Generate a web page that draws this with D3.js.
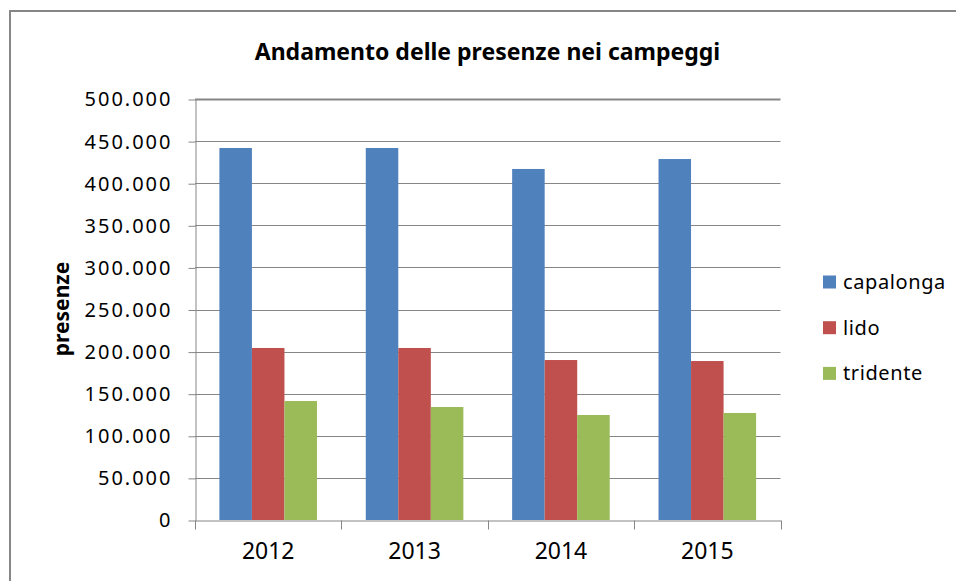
<!DOCTYPE html>
<html lang="it">

<head>
    <meta charset="UTF-8">
    <title>Andamento delle presenze nei campeggi</title>
    <style>
        html,
        body {
            margin: 0;
            padding: 0;
            background: #fff;
        }

        svg {
            display: block;
            font-family: "Noto Sans", sans-serif;
        }
    </style>
</head>

<body>
    <div id="wrapper"></div>

    <script src="https://cdn.jsdelivr.net/npm/d3@7"></script>
    <script>
        // dati
        const years = ['2012', '2013', '2014', '2015'];
        const seriesNames = ['capalonga', 'lido', 'tridente'];
        const capalonga = [441800, 441800, 416900, 428700];
        const lido = [204300, 204300, 190000, 188800];
        const tridente = [141300, 134200, 124700, 127100];
        const yTicks = [0, 50000, 100000, 150000, 200000, 250000, 300000, 350000, 400000, 450000, 500000];
        const colors = ['#4F81BD', '#C0504D', '#9BBB59'];

        const values = [capalonga, lido, tridente];
        const dataset = years.map((y, i) => ({
            year: y,
            vals: seriesNames.map((s, j) => ({ name: s, value: values[j][i] }))
        }));

        const width = 956,
            height = 581;
        const plot = { left: 195, right: 780.5, top: 99, bottom: 520 };

        const svg = d3.select('#wrapper').append('svg')
            .attr('width', width)
            .attr('height', height);

        // cornice esterna
        svg.append('rect')
            .attr('x', 10)
            .attr('y', 11)
            .attr('width', width + 20)
            .attr('height', height + 20)
            .attr('fill', 'none')
            .attr('stroke', '#868686')
            .attr('stroke-width', 2);

        // formato italiano 500.000
        const it = d3.formatLocale({ decimal: ',', thousands: '.', grouping: [3], currency: ['€', ''] });
        const fmt = it.format(',d');

        const xScale = d3.scaleBand()
            .domain(years)
            .range([plot.left, plot.right])
            .padding(0);

        const xSub = d3.scaleBand()
            .domain(seriesNames)
            .range([0, xScale.bandwidth()])
            .paddingInner(0)
            .paddingOuter(0.75);

        const yScale = d3.scaleLinear()
            .domain([0, 500000])
            .range([plot.bottom, plot.top]);

        // griglia
        svg.append('g')
            .selectAll('line')
            .data(yTicks.filter(d => d > 0))
            .join('line')
            .attr('x1', plot.left)
            .attr('x2', plot.right)
            .attr('y1', d => Math.round(yScale(d)) + 0.5)
            .attr('y2', d => Math.round(yScale(d)) + 0.5)
            .attr('stroke', '#868686')
            .attr('stroke-width', d => d === 500000 ? 2 : 1);

        // barre
        const groups = svg.append('g')
            .selectAll('g')
            .data(dataset)
            .join('g')
            .attr('transform', d => `translate(${xScale(d.year)},0)`);

        groups.selectAll('rect')
            .data(d => d.vals)
            .join('rect')
            .attr('x', d => xSub(d.name))
            .attr('y', d => yScale(d.value))
            .attr('width', xSub.bandwidth())
            .attr('height', d => plot.bottom - yScale(d.value))
            .attr('fill', (d, i) => colors[i]);

        // asse Y
        const yAxis = d3.axisLeft(yScale)
            .tickValues(yTicks)
            .tickFormat(fmt)
            .tickSizeOuter(0)
            .tickSizeInner(7)
            .tickPadding(16);

        const yAxisG = svg.append('g')
            .attr('transform', `translate(${plot.left + 0.5},0.5)`)
            .call(yAxis);
        yAxisG.select('.domain').attr('stroke', '#868686');
        yAxisG.selectAll('.tick line').attr('stroke', '#868686');
        yAxisG.selectAll('.tick text')
            .attr('fill', '#000')
            .style('font-size', '20px')
            .style('letter-spacing', '2px')
            .style('font-family', '"Noto Sans", sans-serif');

        // asse X
        const xAxis = d3.axisBottom(xScale)
            .tickSize(0)
            .tickPadding(22);

        const xAxisG = svg.append('g')
            .attr('transform', `translate(0,${plot.bottom + 0.5})`)
            .call(xAxis);
        xAxisG.select('.domain').attr('stroke', '#868686');
        xAxisG.selectAll('.tick text')
            .attr('fill', '#000')
            .style('font-size', '23px')
            .style('font-family', '"Noto Sans", sans-serif');

        // tacche tra le categorie
        const boundaries = years.map(y => xScale(y)).concat([plot.right]);
        xAxisG.append('g')
            .selectAll('line')
            .data(boundaries)
            .join('line')
            .attr('x1', d => Math.round(d) + 0.5)
            .attr('x2', d => Math.round(d) + 0.5)
            .attr('y1', 0)
            .attr('y2', 9)
            .attr('stroke', '#868686');

        // titolo
        svg.append('text')
            .attr('x', 487.5)
            .attr('y', 60)
            .attr('text-anchor', 'middle')
            .attr('fill', '#000')
            .style('font-size', '23px')
            .style('font-weight', 'bold')
            .text('Andamento delle presenze nei campeggi');

        // titolo asse Y
        svg.append('text')
            .attr('transform', 'translate(69,309) rotate(-90)')
            .attr('text-anchor', 'middle')
            .attr('fill', '#000')
            .style('font-size', '21px')
            .style('font-weight', 'bold')
            .text('presenze');

        // legenda
        const legend = svg.append('g')
            .selectAll('g')
            .data(seriesNames)
            .join('g')
            .attr('transform', (d, i) => `translate(823,${282 + i * 45.7})`);

        legend.append('rect')
            .attr('x', 0)
            .attr('y', -6.5)
            .attr('width', 13)
            .attr('height', 13)
            .attr('fill', (d, i) => colors[i]);

        legend.append('text')
            .attr('x', 20)
            .attr('y', 7)
            .attr('fill', '#000')
            .style('font-size', '20px')
            .style('letter-spacing', '0.6px')
            .text(d => d);
    </script>
</body>

</html>
